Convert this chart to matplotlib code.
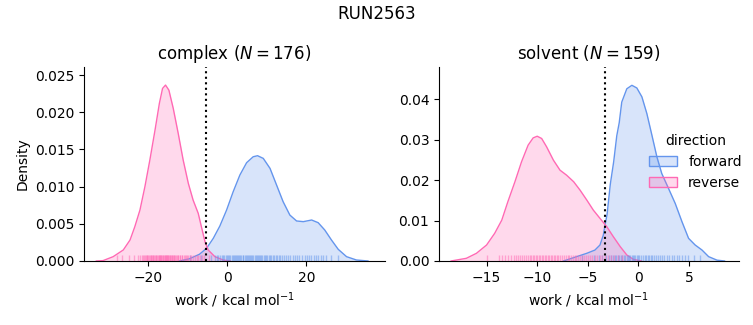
import matplotlib
matplotlib.use("Agg")
import matplotlib.pyplot as plt
from matplotlib.colors import to_rgba
from matplotlib.patches import Patch

# density curves (x in kcal/mol, y = density)
cx_rev_x = [-33.0, -31.3, -28.75, -26.2, -24.5, -23.3, -22.0, -20.75, -19.5, -18.2, -17.1, -16.3, -15.55,
            -14.7, -13.6, -12.35, -11.1, -9.8, -8.6, -7.3, -6.5, -5.6, -4.8, -3.1, -1.0, 0.8]
cx_rev_y = [0.0, 0.00005, 0.00058, 0.00148, 0.00282, 0.0046, 0.00685, 0.00999, 0.01358, 0.0176, 0.0212,
            0.02321, 0.02366, 0.02298, 0.02052, 0.01716, 0.01358, 0.01044, 0.0082, 0.0064, 0.0046, 0.0026,
            0.00148, 0.00058, 0.00013, 0.0]
cx_fwd_x = [-12.0, -9.5, -7.0, -5.2, -3.5, -1.85, -0.15, 1.5, 3.2, 4.9, 6.56, 7.66, 9.1, 10.8, 12.45, 14.1,
            15.8, 17.5, 19.2, 21.3, 22.95, 24.6, 26.3, 28.0, 30.1, 32.6, 35.5]
cx_fwd_y = [0.0, 0.0003, 0.0009, 0.0017, 0.00305, 0.0047, 0.00685, 0.0093, 0.01156, 0.01322, 0.01402,
            0.01416, 0.0138, 0.01246, 0.01022, 0.00798, 0.00618, 0.00538, 0.00529, 0.00551, 0.00515,
            0.00417, 0.00282, 0.00157, 0.00058, 0.00013, 0.0]

sv_rev_x = [-18.5, -17.0, -16.0, -15.0, -14.2, -13.5, -12.9, -12.2, -11.55, -10.9, -10.4, -10.0, -9.56,
            -9.07, -8.4, -7.75, -7.1, -6.4, -5.77, -5.1, -4.46, -3.8, -3.13, -2.48, -1.8, -1.15, -0.5, 0.3]
sv_rev_y = [0.0, 0.00066, 0.0019, 0.00395, 0.00684, 0.0101, 0.01465, 0.0196, 0.02452, 0.02864, 0.03045,
            0.03086, 0.0303, 0.02823, 0.02494, 0.02247, 0.02123, 0.0196, 0.01753, 0.01506, 0.01259, 0.01054,
            0.00848, 0.006, 0.00354, 0.00148, 0.0004, 0.0]
sv_fwd_x = [-7.4, -6.1, -5.1, -4.3, -3.8, -3.47, -3.3, -3.1, -2.78, -2.45, -2.14, -1.9, -1.65, -1.15, -0.65,
            -0.16, 0.34, 0.83, 1.33, 1.82, 2.3, 2.97, 3.63, 4.3, 4.95, 5.6, 6.28, 6.93, 7.76, 8.5]
sv_fwd_y = [0.0, 0.00107, 0.0019, 0.0027, 0.00395, 0.0064, 0.0089, 0.0115, 0.019, 0.0245, 0.031, 0.0342,
            0.0393, 0.0426, 0.04346, 0.0428, 0.0406, 0.03646, 0.0311, 0.02576, 0.02165, 0.01794, 0.01424,
            0.0097, 0.0056, 0.00395, 0.0027, 0.00107, 0.0002, 0.0]

# rug positions (approximate, read from the tick marks along the x axis)
cx_rev_rug = [-27.9, -26.5, -24.8, -23.5, -22.4, -21.9, -21.6, -21.3, -21.0, -20.7, -20.5, -20.3, -20.1,
              -19.9, -19.7, -19.5, -19.3, -19.1, -18.9, -18.7, -18.6, -18.4, -18.2, -18.0, -17.9, -17.7,
              -17.5, -17.3, -17.2, -17.0, -16.9, -16.7, -16.6, -16.4, -16.3, -16.1, -16.0, -15.8, -15.7,
              -15.5, -15.4, -15.2, -15.1, -14.9, -14.8, -14.6, -14.5, -14.3, -14.2, -14.0, -13.9, -13.7,
              -13.5, -13.3, -13.1, -12.9, -12.7, -12.5, -12.3, -12.0, -11.8, -11.5, -11.3, -11.0, -10.7,
              -10.4, -10.1, -9.8, -9.4, -9.0, -8.6, -8.1, -7.7, -7.3, -6.9, -6.3, -5.8, -4.5]
cx_fwd_rug = [-9.3, -6.5, -4.2, -3.1, -2.6, -2.2, -1.8, -1.4, -1.0, -0.7, -0.4, -0.1, 0.2, 0.5, 0.8, 1.1, 1.4,
              1.6, 1.9, 2.2, 2.5, 2.8, 3.0, 3.3, 3.6, 3.9, 4.1, 4.4, 4.7, 5.0, 5.2, 5.5, 5.8, 6.1, 6.3, 6.6,
              6.9, 7.2, 7.4, 7.7, 8.0, 8.3, 8.6, 8.9, 9.2, 9.5, 9.8, 10.1, 10.5, 10.8, 11.1, 11.5, 11.8, 12.2,
              12.6, 13.0, 13.4, 13.8, 14.3, 14.8, 15.4, 15.9, 16.5, 17.0, 17.6, 18.2, 18.9, 19.5, 20.1, 20.6,
              21.2, 21.8, 22.4, 23.0, 23.6, 24.2, 24.9, 26.2, 27.9]
sv_rev_rug = [-15.0, -13.8, -13.5, -13.2, -12.9, -12.6, -12.3, -12.1, -11.9, -11.7, -11.5, -11.3, -11.1,
              -10.9, -10.7, -10.6, -10.4, -10.3, -10.1, -10.0, -9.8, -9.7, -9.5, -9.4, -9.2, -9.1, -8.9,
              -8.8, -8.6, -8.5, -8.3, -8.2, -8.0, -7.9, -7.7, -7.6, -7.4, -7.2, -7.0, -6.9, -6.7, -6.5,
              -6.3, -6.2, -6.0, -5.8, -5.6, -5.4, -5.2, -5.0, -4.8, -4.6, -4.3, -4.1, -3.8, -3.6, -3.3,
              -3.0, -2.7, -2.4, -2.0, -1.6]
sv_fwd_rug = [-5.6, -4.4, -3.9, -3.6, -3.2, -2.9, -2.7, -2.5, -2.3, -2.2, -2.0, -1.9, -1.7, -1.6, -1.4, -1.3,
              -1.1, -1.0, -0.9, -0.8, -0.6, -0.5, -0.4, -0.3, -0.1, 0.0, 0.1, 0.3, 0.4, 0.6, 0.7, 0.9, 1.0,
              1.2, 1.3, 1.5, 1.7, 1.9, 2.1, 2.3, 2.5, 2.8, 3.0, 3.3, 3.5, 3.8, 4.0, 4.3, 4.6, 4.9, 5.5, 6.1]

# dotted lines (free energy estimate)
cx_dg = -5.4
sv_dg = -3.3

blue = "cornflowerblue"
pink = "hotpink"

fig = plt.figure(figsize=(7.53, 3.25), dpi=100)
ax1 = fig.add_axes([0.1116, 0.197, 0.3997, 0.597])
ax2 = fig.add_axes([0.583, 0.197, 0.398, 0.597])


def draw(ax, fx, fy, rx, ry, frug, rrug, dg, title, xlim, ylim, yticks):
    for x, y, c in [(fx, fy, blue), (rx, ry, pink)]:
        ax.fill_between(x, y, color=c, alpha=0.25, lw=0)
        ax.plot(x, y, color=c, lw=1)
    tr = ax.get_xaxis_transform()
    ax.vlines(frug, 0, 0.03, transform=tr, color=blue, lw=1, alpha=0.5)
    ax.vlines(rrug, 0, 0.03, transform=tr, color=pink, lw=1, alpha=0.5)
    ax.axvline(dg, color="black", ls=":", lw=1.5)
    ax.set_xlim(*xlim)
    ax.set_ylim(*ylim)
    ax.set_yticks(yticks)
    ax.set_title(title, fontsize=12)
    ax.set_xlabel("work / kcal mol$^{-1}$")
    ax.spines["top"].set_visible(False)
    ax.spines["right"].set_visible(False)


draw(ax1, cx_fwd_x, cx_fwd_y, cx_rev_x, cx_rev_y, cx_fwd_rug, cx_rev_rug, cx_dg,
     "complex ($N = 176$)", (-36.1, 39.8), (0, 0.0261), [0, 0.005, 0.01, 0.015, 0.02, 0.025])
draw(ax2, sv_fwd_x, sv_fwd_y, sv_rev_x, sv_rev_y, sv_fwd_rug, sv_rev_rug, sv_dg,
     "solvent ($N = 159$)", (-19.7, 9.9), (0, 0.048), [0, 0.01, 0.02, 0.03, 0.04])
ax1.set_yticklabels(["0.000", "0.005", "0.010", "0.015", "0.020", "0.025"])
ax2.set_yticklabels(["0.00", "0.01", "0.02", "0.03", "0.04"])
ax1.set_ylabel("Density")

handles = [Patch(facecolor=to_rgba(blue, 0.25), edgecolor=blue),
           Patch(facecolor=to_rgba(pink, 0.25), edgecolor=pink)]
ax2.legend(handles, ["forward", "reverse"], title="direction", frameon=False,
           loc="center left", bbox_to_anchor=(0.66, 0.51))

fig.suptitle("RUN2563", fontsize=12, y=0.985)
fig.savefig("out.png", dpi=100)
